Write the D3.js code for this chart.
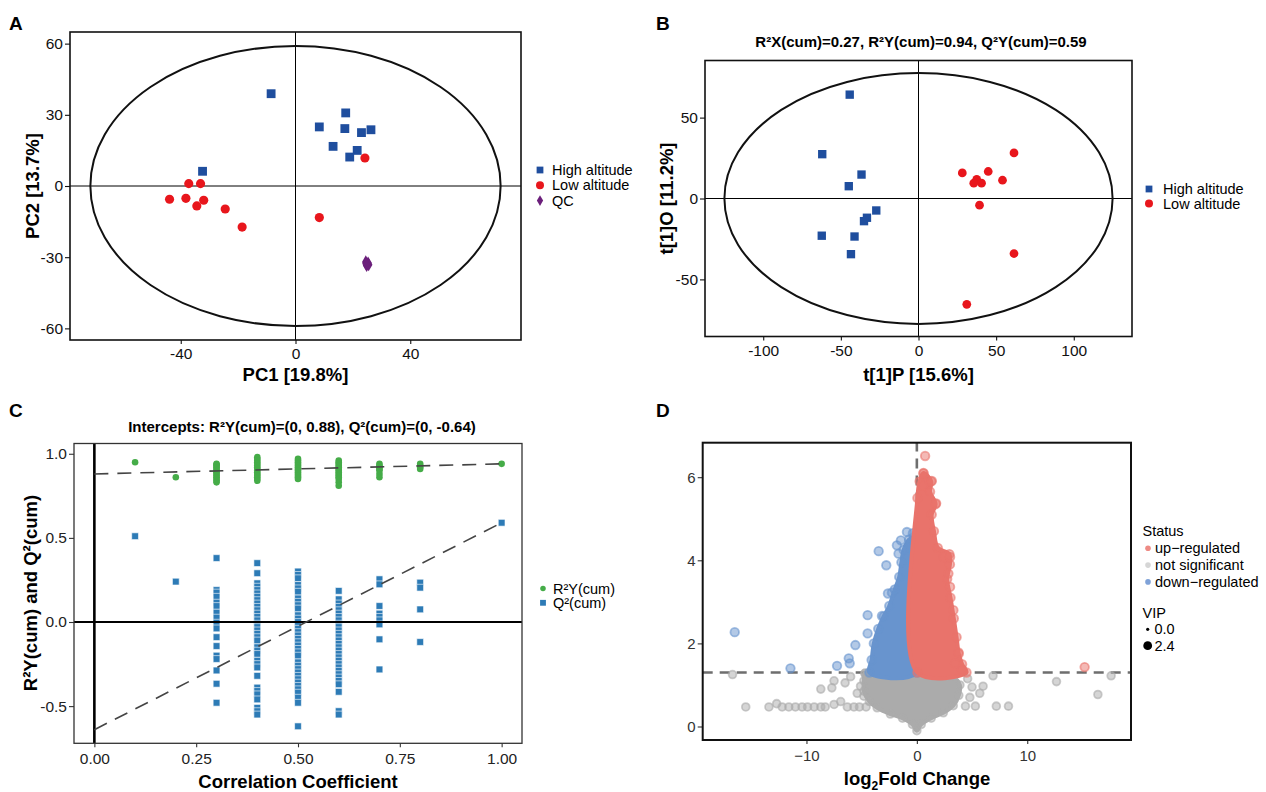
<!DOCTYPE html>
<html>
<head>
<meta charset="utf-8">
<script src="https://cdn.jsdelivr.net/npm/d3@7"></script>
<style>
  body { margin: 0; background: #fff; }
  svg text { font-family: "Liberation Sans", Arial, sans-serif; }
</style>
</head>
<body>
<div id="figure"></div>
<script>
'use strict';

// ---------- A: PCA scores ----------
const pcaHighX = [-8.5, 17.5, 8.3, 17.2, 23.0, 26.3, 13.1, 21.5, 18.9, -32.4];
const pcaHighY = [38.9, 30.8, 24.9, 24.2, 22.5, 23.7, 16.7, 15.0, 12.2, 6.2];
const pcaLowX = [24.2, -37.2, -33.1, -43.9, -38.2, -32.0, -34.4, -24.5, -18.6, 8.3];
const pcaLowY = [11.8, 1.0, 1.0, -5.6, -5.2, -6.0, -8.4, -9.7, -17.3, -13.3];
const pcaQcX = [24.5, 25.3, 24.8, 25.5, 24.6];
const pcaQcY = [-32.0, -32.5, -33.5, -33.2, -32.8];
const pcaEllipse = [71.5, 59];
const pcaXTicks = [-40, 0, 40];
const pcaYTicks = [-60, -30, 0, 30, 60];

// ---------- B: OPLS-DA scores ----------
const oplsHighX = [-44.3, -62.0, -36.7, -44.9, -27.2, -33.2, -35.1, -62.3, -41.2, -43.5];
const oplsHighY = [64.2, 27.4, 14.8, 7.6, -7.4, -11.9, -14.0, -23.0, -23.5, -34.4];
const oplsLowX = [61.5, 28.2, 44.9, 37.5, 35.6, 40.6, 54.1, 39.3, 61.5, 31.1];
const oplsLowY = [28.2, 15.8, 16.7, 11.9, 9.5, 9.5, 11.3, -4.1, -34.0, -65.4];
const oplsEllipse = [125, 77.5];
const oplsXTicks = [-100, -50, 0, 50, 100];
const oplsYTicks = [-50, 0, 50];

// ---------- C: permutation test ----------
const corrCoef = [0.1, 0.2, 0.3, 0.4, 0.5, 0.6, 0.7, 0.8, 1.0];
const r2Values = [
  [0.95],
  [0.86],
  [0.94, 0.935, 0.93, 0.92, 0.91, 0.90, 0.89, 0.88, 0.87, 0.86, 0.85, 0.84, 0.83],
  [0.98, 0.97, 0.96, 0.95, 0.94, 0.93, 0.92, 0.91, 0.90, 0.89, 0.88, 0.87, 0.86, 0.85, 0.84],
  [0.97, 0.96, 0.95, 0.94, 0.93, 0.92, 0.91, 0.90, 0.89, 0.88, 0.87, 0.86, 0.85],
  [0.96, 0.95, 0.94, 0.93, 0.92, 0.91, 0.90, 0.89, 0.88, 0.87, 0.86, 0.85, 0.83, 0.81],
  [0.94, 0.93, 0.92, 0.91, 0.90, 0.88, 0.86],
  [0.94, 0.93, 0.92, 0.91],
  [0.94]
];
const q2Values = [
  [0.51],
  [0.24],
  [0.38, 0.19, 0.175, 0.15, 0.115, 0.095, 0.056, 0.026, -0.004, -0.038, -0.09, -0.143, -0.2, -0.22, -0.288, -0.367, -0.48],
  [0.35, 0.29, 0.23, 0.21, 0.19, 0.17, 0.15, 0.13, 0.11, 0.09, 0.07, 0.05, 0.03, 0.01, -0.01, -0.03, -0.05, -0.07,
   -0.09, -0.11, -0.15, -0.17, -0.19, -0.23, -0.25, -0.27, -0.32, -0.39, -0.41, -0.43, -0.46, -0.51, -0.53, -0.55],
  [0.30, 0.28, 0.26, 0.22, 0.20, 0.18, 0.14, 0.12, 0.10, 0.08, 0.04, 0.02, 0.0, -0.02, -0.04, -0.06, -0.08, -0.10,
   -0.12, -0.14, -0.16, -0.18, -0.20, -0.24, -0.26, -0.28, -0.30, -0.32, -0.34, -0.36, -0.38, -0.40, -0.42, -0.45, -0.48, -0.62],
  [0.185, 0.135, 0.11, 0.09, 0.07, 0.05, 0.03, 0.01, -0.01, -0.03, -0.05, -0.07, -0.09, -0.11, -0.13, -0.15, -0.17,
   -0.19, -0.21, -0.23, -0.25, -0.27, -0.29, -0.31, -0.33, -0.35, -0.37, -0.415, -0.53, -0.55],
  [0.254, 0.224, 0.095, 0.05, 0.03, 0.01, -0.014, -0.103, -0.282],
  [0.234, 0.204, 0.075, -0.119],
  [0.59]
];
const r2Intercept = [[0, 0.88], [1, 0.94]];
const q2Intercept = [[0, -0.64], [1, 0.59]];
const permXTicks = [0, 0.25, 0.5, 0.75, 1.0];
const permYTicks = [-0.5, 0, 0.5, 1.0];

// ---------- D: volcano ----------
// outline of the dense clouds, [log2FC, -log10 p]
const upCloud = [[0.05, 1.3], [4.5, 1.3], [4.1, 1.5], [3.8, 1.75], [3.6, 2.15], [3.35, 2.6], [3.05, 3.1], [2.75, 3.55],
  [3.0, 3.9], [2.95, 4.15], [1.9, 4.3], [1.55, 4.7], [1.35, 5.1], [1.7, 5.35], [1.2, 5.65], [1.3, 5.9], [0.6, 6.1],
  [0.25, 5.9], [0.05, 5.5]];
const downCloud = [[0, 1.3], [-4.3, 1.3], [-4.1, 1.6], [-3.9, 2.0], [-3.5, 2.35], [-3.0, 2.65], [-2.5, 2.9], [-2.0, 3.3],
  [-1.6, 3.6], [-1.4, 3.95], [-1.2, 4.25], [-0.7, 4.5], [-0.25, 4.55], [0, 4.4]];
const nsCloud = [[-4.7, 1.28], [-2.5, 1.26], [0, 1.28], [2.2, 1.26], [3.1, 1.22], [3.9, 1.0], [3.8, 0.75], [3.3, 0.5],
  [2.4, 0.33], [1.3, 0.2], [0.4, 0.05], [0, -0.1], [-0.4, 0.05], [-1.3, 0.2], [-2.4, 0.3], [-3.6, 0.45], [-4.3, 0.6],
  [-4.8, 0.85], [-4.8, 1.1]];
// single points outside the clouds
const upPoints = [[0.75, 6.51], [0.6, 6.09], [1.36, 5.91], [0.54, 5.79], [1.75, 5.37], [2.41, 4.08], [3.01, 4.08],
  [2.86, 3.68], [3.01, 3.36], [3.31, 2.8], [3.77, 1.78], [4.07, 1.36], [3.46, 1.52], [15.2, 1.43]];
const downPoints = [[-16.5, 2.27], [-11.45, 1.40], [-7.23, 1.46], [-6.17, 1.64], [-6.08, 1.52], [-5.57, 1.96],
  [-4.46, 2.68], [-4.46, 2.24], [-3.46, 4.22], [-2.77, 3.88], [-3.16, 2.66], [-2.62, 3.2], [-2.26, 3.22],
  [-1.81, 4.36], [-1.45, 4.48], [-0.9, 4.68], [-0.36, 4.65], [-1.66, 4.16]];
const nsPoints = [[-16.7, 1.25], [-15.5, 0.47], [-13.4, 0.47], [-12.7, 0.55], [-12.2, 0.47], [-11.6, 0.47],
  [-11.0, 0.47], [-10.4, 0.47], [-9.9, 0.47], [-9.3, 0.47], [-8.7, 0.47], [-8.3, 0.47], [-7.5, 0.53], [-8.7, 0.9],
  [-7.7, 0.93], [-7.5, 1.1], [-6.5, 1.05], [-6.3, 0.47], [-5.7, 0.47], [-6.0, 1.2], [-5.4, 0.8], [-4.8, 0.73],
  [-5.1, 0.97], [-4.7, 1.28], [-5.2, 0.47], [-4.6, 0.47], [-6.9, 0.6], [6.9, 1.22], [6.0, 0.97], [5.7, 0.8],
  [5.3, 0.49], [4.4, 0.49], [4.8, 0.7], [7.2, 0.49], [8.3, 0.49], [12.65, 1.08], [16.4, 0.77], [17.6, 1.22],
  [5.0, 0.95], [4.6, 1.15]];
const pThreshold = 1.3;
const volcanoXTicks = [-10, 0, 10];
const volcanoYTicks = [0, 2, 4, 6];
const statusLabels = ['up\u2212regulated', 'not significant', 'down\u2212regulated'];
const vipLabels = [0.0, 2.4];

(function() {

  const blue = '#1F4E9E', red = '#E8161C', purple = '#6B1F7B';
  const svg = d3.select('#figure').append('svg')
    .attr('width', 1266)
    .attr('height', 792);

  // draw left/bottom axes with plain hyphen labels
  function drawAxes(x, y, opts) {
    let left = x.range()[0], bottom = y.range()[0];
    let gx = svg.append('g')
      .attr('transform', `translate(0, ${bottom})`)
      .call(d3.axisBottom(x).tickValues(opts.xTicks).tickSize(4).tickPadding(opts.xPad).tickFormat(opts.xFormat));
    let gy = svg.append('g')
      .attr('transform', `translate(${left}, 0)`)
      .call(d3.axisLeft(y).tickValues(opts.yTicks).tickSize(5).tickPadding(opts.yPad).tickFormat(opts.yFormat));
    [gx, gy].forEach(g => {
      g.select('.domain').remove();
      g.selectAll('line').attr('stroke', opts.tickColor).attr('stroke-width', 1.1);
      g.selectAll('text')
        .attr('font-family', '"Liberation Sans", Arial, sans-serif')
        .attr('font-size', opts.fontSize)
        .attr('fill', opts.textColor);
    });
  }

  function frame(x, y, color, width) {
    svg.append('rect')
      .attr('x', x.range()[0]).attr('y', y.range()[1])
      .attr('width', x.range()[1] - x.range()[0])
      .attr('height', y.range()[0] - y.range()[1])
      .attr('fill', 'none')
      .attr('stroke', color)
      .attr('stroke-width', width);
  }

  function label(x, y, txt, size, weight, anchor, rotate) {
    let t = svg.append('text')
      .attr('font-size', size)
      .attr('font-weight', weight || 'normal')
      .attr('text-anchor', anchor || 'start')
      .text(txt);
    if (rotate) {
      t.attr('transform', `translate(${x}, ${y}) rotate(-90)`);
    } else {
      t.attr('x', x).attr('y', y);
    }
    return t;
  }

  function symbols(xs, ys, x, y, type, size, color, stroke) {
    svg.append('g').selectAll('path')
      .data(xs.map((v, i) => [v, ys[i]]))
      .enter()
      .append('path')
        .attr('transform', d => `translate(${x(d[0])}, ${y(d[1])})`)
        .attr('d', d3.symbol().type(type).size(size))
        .attr('fill', color)
        .attr('stroke', stroke || 'none')
        .attr('stroke-width', 0.6);
  }

  function crossAndEllipse(x, y, radii) {
    svg.append('line')
      .attr('x1', x(0)).attr('x2', x(0))
      .attr('y1', y.range()[0]).attr('y2', y.range()[1])
      .attr('stroke', '#000').attr('stroke-width', 1);
    svg.append('line')
      .attr('x1', x.range()[0]).attr('x2', x.range()[1])
      .attr('y1', y(0)).attr('y2', y(0))
      .attr('stroke', '#000').attr('stroke-width', 1);
    svg.append('ellipse')
      .attr('cx', x(0)).attr('cy', y(0))
      .attr('rx', x(radii[0]) - x(0))
      .attr('ry', y(0) - y(radii[1]))
      .attr('fill', 'none')
      .attr('stroke', '#111')
      .attr('stroke-width', 2);
  }

  function scoreLegend(items, mx, tx, y0, step) {
    items.forEach((it, i) => {
      let yy = y0 + i * step;
      svg.append('path')
        .attr('transform', `translate(${mx}, ${yy})`)
        .attr('d', d3.symbol().type(it.type).size(it.size))
        .attr('fill', it.color);
      label(tx, yy + 5, it.name, 14.5);
    });
  }

  const plain = d => String(d);

  // ===== panel A =====
  let xA = d3.scaleLinear().domain([-78.6, 78.6]).range([70, 521]);
  let yA = d3.scaleLinear().domain([-64.9, 64.9]).range([340, 32]);
  crossAndEllipse(xA, yA, pcaEllipse);
  symbols(pcaHighX, pcaHighY, xA, yA, d3.symbolSquare, 78, blue);
  symbols(pcaLowX, pcaLowY, xA, yA, d3.symbolCircle, 66, red);
  symbols(pcaQcX, pcaQcY, xA, yA, d3.symbolDiamond, 50, purple);
  drawAxes(xA, yA, {xTicks: pcaXTicks, yTicks: pcaYTicks, xFormat: plain, yFormat: plain,
    xPad: 4, yPad: 2, fontSize: 15.5, textColor: '#111', tickColor: '#111'});
  frame(xA, yA, '#111', 1.6);
  label(295.5, 381, 'PC1 [19.8%]', 18.5, 'bold', 'middle');
  label(39, 186, 'PC2 [13.7%]', 18.5, 'bold', 'middle', true);
  scoreLegend([
    {name: 'High altitude', type: d3.symbolSquare, size: 46, color: blue},
    {name: 'Low altitude', type: d3.symbolCircle, size: 50, color: red},
    {name: 'QC', type: d3.symbolDiamond, size: 34, color: purple}
  ], 540, 552, 170, 15.3);
  label(9, 30, 'A', 19, 'bold');

  // ===== panel B =====
  let xB = d3.scaleLinear().domain([-137.5, 137.5]).range([705, 1132]);
  let yB = d3.scaleLinear().domain([-85.3, 85.3]).range([336.5, 60.5]);
  crossAndEllipse(xB, yB, oplsEllipse);
  symbols(oplsHighX, oplsHighY, xB, yB, d3.symbolSquare, 70, blue);
  symbols(oplsLowX, oplsLowY, xB, yB, d3.symbolCircle, 60, red);
  drawAxes(xB, yB, {xTicks: oplsXTicks, yTicks: oplsYTicks, xFormat: plain, yFormat: plain,
    xPad: 4, yPad: 2, fontSize: 15.5, textColor: '#111', tickColor: '#111'});
  frame(xB, yB, '#111', 1.6);
  label(918.5, 381, 't[1]P [15.6%]', 18.5, 'bold', 'middle');
  label(673, 198.5, 't[1]O [11.2%]', 18.5, 'bold', 'middle', true);
  label(921, 47, 'R\u00B2X(cum)=0.27, R\u00B2Y(cum)=0.94, Q\u00B2Y(cum)=0.59', 15, 'bold', 'middle');
  scoreLegend([
    {name: 'High altitude', type: d3.symbolSquare, size: 46, color: blue},
    {name: 'Low altitude', type: d3.symbolCircle, size: 50, color: red}
  ], 1149, 1163, 189, 14.5);
  label(656, 30, 'B', 19, 'bold');

  // ===== panel C =====
  const green = '#45AC48', steel = '#2D7BB6';
  let xC = d3.scaleLinear().domain([-0.05, 1.05]).range([74, 522]);
  let yC = d3.scaleLinear().domain([-0.721, 1.061]).range([743.3, 443.5]);
  let r2Pts = [], q2Pts = [];
  corrCoef.forEach((c, i) => {
    r2Values[i].forEach(v => r2Pts.push([c, v]));
    q2Values[i].forEach(v => q2Pts.push([c, v]));
  });
  symbols(q2Pts.map(d => d[0]), q2Pts.map(d => d[1]), xC, yC, d3.symbolSquare, 46, steel, '#fff');
  symbols(r2Pts.map(d => d[0]), r2Pts.map(d => d[1]), xC, yC, d3.symbolCircle, 34, green);
  // zero lines
  svg.append('line')
    .attr('x1', xC(0)).attr('x2', xC(0))
    .attr('y1', yC.range()[0]).attr('y2', yC.range()[1])
    .attr('stroke', '#000').attr('stroke-width', 2.6);
  svg.append('line')
    .attr('x1', xC.range()[0]).attr('x2', xC.range()[1])
    .attr('y1', yC(0)).attr('y2', yC(0))
    .attr('stroke', '#000').attr('stroke-width', 1.8);
  // regression lines
  let permLine = d3.line().x(d => xC(d[0])).y(d => yC(d[1]));
  [r2Intercept, q2Intercept].forEach(seg => {
    svg.append('path')
      .attr('d', permLine(seg))
      .attr('fill', 'none')
      .attr('stroke', '#444')
      .attr('stroke-width', 1.6)
      .attr('stroke-dasharray', '14,9');
  });
  drawAxes(xC, yC, {xTicks: permXTicks, yTicks: permYTicks,
    xFormat: d => d.toFixed(2), yFormat: d => d.toFixed(1),
    xPad: 6, yPad: 2, fontSize: 15.5, textColor: '#222', tickColor: '#333'});
  frame(xC, yC, '#333', 1.3);
  label(298, 788, 'Correlation Coefficient', 18.5, 'bold', 'middle');
  label(37, 593, 'R\u00B2Y(cum) and Q\u00B2(cum)', 18.5, 'bold', 'middle', true);
  label(302, 432, 'Intercepts: R\u00B2Y(cum)=(0, 0.88), Q\u00B2(cum)=(0, -0.64)', 15, 'bold', 'middle');
  scoreLegend([
    {name: 'R\u00B2Y(cum)', type: d3.symbolCircle, size: 24, color: green},
    {name: 'Q\u00B2(cum)', type: d3.symbolSquare, size: 34, color: steel}
  ], 543, 553, 588.5, 14.3);
  label(9, 417, 'C', 19, 'bold');

  // ===== panel D =====
  const upCol = '#E9736B', nsCol = '#ABABAB', downCol = '#6894CE';
  let xD = d3.scaleLinear().domain([-19.4, 19.4]).range([702.7, 1131]);
  let yD = d3.scaleLinear().domain([-0.325, 6.83]).range([740, 442.7]);
  let vipSize = d3.scaleSqrt().domain([0, 2.4]).range([1.6, 4.4]);

  // threshold lines
  svg.append('line')
    .attr('x1', xD.range()[0]).attr('x2', xD.range()[1])
    .attr('y1', yD(pThreshold)).attr('y2', yD(pThreshold))
    .attr('stroke', '#6E6E6E').attr('stroke-width', 2.6).attr('stroke-dasharray', '10,7');
  svg.append('line')
    .attr('x1', xD(0)).attr('x2', xD(0))
    .attr('y1', yD(pThreshold)).attr('y2', yD.range()[1])
    .attr('stroke', '#6E6E6E').attr('stroke-width', 2.6).attr('stroke-dasharray', '10,7');

  let cloudLine = d3.line()
    .x(d => xD(d[0])).y(d => yD(d[1]))
    .curve(d3.curveCatmullRomClosed.alpha(0.5));

  function cloud(outline, color) {
    svg.append('path')
      .attr('d', cloudLine(outline))
      .attr('fill', color)
      .attr('stroke', color)
      .attr('stroke-width', 4)
      .attr('stroke-linejoin', 'round');
  }

  function rings(pts, color, vip) {
    svg.append('g').selectAll('circle')
      .data(pts)
      .enter()
      .append('circle')
        .attr('cx', d => xD(d[0]))
        .attr('cy', d => yD(d[1]))
        .attr('r', vipSize(vip))
        .attr('fill', color)
        .attr('fill-opacity', 0.5)
        .attr('stroke', color)
        .attr('stroke-opacity', 0.6)
        .attr('stroke-width', 1.8);
  }

  cloud(nsCloud, nsCol);
  rings(nsCloud, nsCol, 1.6);
  rings(nsPoints, nsCol, 1.6);
  cloud(downCloud, downCol);
  rings(downCloud, downCol, 2.2);
  rings(downPoints, downCol, 2.2);
  cloud(upCloud, upCol);
  rings(upCloud, upCol, 2.2);
  rings(upPoints, upCol, 2.2);

  drawAxes(xD, yD, {xTicks: volcanoXTicks, yTicks: volcanoYTicks,
    xFormat: d => d < 0 ? '\u2212' + Math.abs(d) : String(d), yFormat: plain,
    xPad: 6, yPad: 2, fontSize: 15, textColor: '#333', tickColor: '#333'});
  frame(xD, yD, '#111', 2);
  let xt = label(917, 785, 'log', 18.5, 'bold', 'middle');
  xt.append('tspan').attr('font-size', 12).attr('dy', 5).text('2');
  xt.append('tspan').attr('dy', -5).text('Fold Change');
  label(656, 417, 'D', 19, 'bold');

  // legend: status + VIP size
  label(1142.5, 536, 'Status', 14.5);
  const keyCols = ['#EE8B85', '#D6D6D6', '#7FA2D8'];
  statusLabels.forEach((s, i) => {
    let yy = 548.3 + i * 16.8;
    svg.append('circle').attr('cx', 1148).attr('cy', yy).attr('r', 2.8).attr('fill', keyCols[i]);
    label(1155, yy + 5, s, 14.5);
  });
  label(1142.5, 618, 'VIP', 14.5);
  vipLabels.forEach((v, i) => {
    let yy = 629.3 + i * 16.4;
    svg.append('circle').attr('cx', 1147.7).attr('cy', yy).attr('r', vipSize(v)).attr('fill', '#000');
    label(1154.5, yy + 5, v.toFixed(1), 14.5);
  });

})();
</script>
</body>
</html>
